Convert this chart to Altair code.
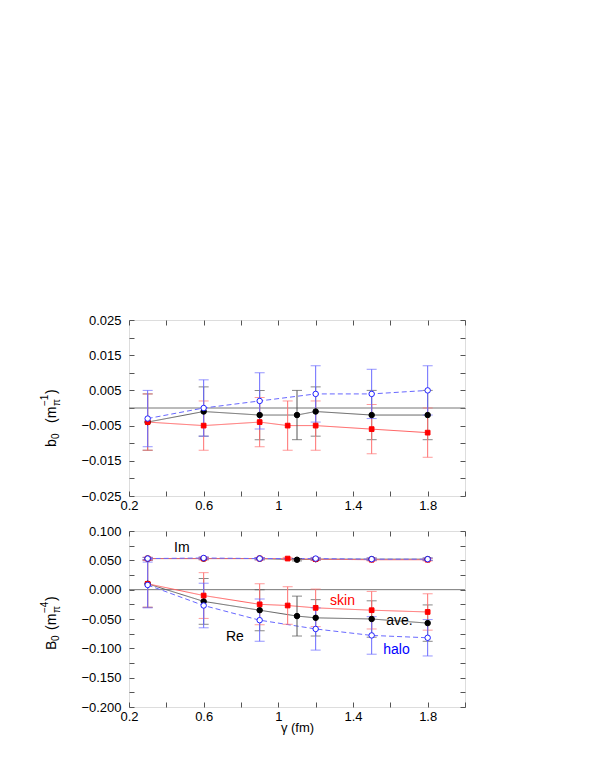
import altair as alt
import pandas as pd

FONT = "Liberation Sans"

# ---------------- data ----------------
skin_x = [0.3, 0.6, 0.9, 1.05, 1.2, 1.5, 1.8]
ave_x = [0.3, 0.6, 0.9, 1.1, 1.2, 1.5, 1.8]
halo_x = [0.3, 0.6, 0.9, 1.2, 1.5, 1.8]

# upper panel: b0
skin_b0 = [-0.004, -0.005, -0.004, -0.005, -0.005, -0.006, -0.007]
skin_b0_err = [0.008, 0.007, 0.007, 0.007, 0.007, 0.007, 0.007]
ave_b0 = [-0.004, -0.001, -0.002, -0.002, -0.001, -0.002, -0.002]
ave_b0_err = [0.008, 0.007, 0.007, 0.007, 0.007, 0.007, 0.007]
halo_b0 = [-0.003, 0.000, 0.002, 0.004, 0.004, 0.005]
halo_b0_err = [0.008, 0.008, 0.008, 0.008, 0.007, 0.007]

# lower panel: B0, real part
skin_re = [0.010, -0.010, -0.025, -0.027, -0.031, -0.035, -0.038]
skin_re_err = [0.040, 0.039, 0.035, 0.032, 0.032, 0.032, 0.031]
ave_re = [0.010, -0.020, -0.035, -0.045, -0.048, -0.050, -0.057]
ave_re_err = [0.040, 0.039, 0.035, 0.034, 0.031, 0.031, 0.031]
halo_re = [0.008, -0.027, -0.052, -0.067, -0.078, -0.082]
halo_re_err = [0.039, 0.038, 0.036, 0.036, 0.032, 0.031]

# lower panel: B0, imaginary part
skin_im = [0.053, 0.053, 0.053, 0.053, 0.052, 0.051, 0.051]
ave_im = [0.053, 0.053, 0.053, 0.051, 0.052, 0.052, 0.052]
halo_im = [0.053, 0.054, 0.053, 0.053, 0.052, 0.052]
im_err = 0.002

x_ticks = [0.2, 0.4, 0.6, 0.8, 1.0, 1.2, 1.4, 1.6, 1.8, 2.0]
b0_ticks = [-0.025, -0.02, -0.015, -0.01, -0.005, 0.0, 0.005, 0.01, 0.015, 0.02, 0.025]
B0_ticks = [-0.2, -0.175, -0.15, -0.125, -0.1, -0.075, -0.05, -0.025, 0.0, 0.025, 0.05, 0.075, 0.1]


def frame(series, xs, vals, errs, part):
    if not isinstance(errs, list):
        errs = [errs] * len(xs)
    return pd.DataFrame({
        "series": series, "part": part, "x": xs, "v": vals,
        "lo": [v - e for v, e in zip(vals, errs)],
        "hi": [v + e for v, e in zip(vals, errs)],
    })


top_df = pd.concat([
    frame("skin", skin_x, skin_b0, skin_b0_err, "Re"),
    frame("ave", ave_x, ave_b0, ave_b0_err, "Re"),
    frame("halo", halo_x, halo_b0, halo_b0_err, "Re"),
])
bot_df = pd.concat([
    frame("skin", skin_x, skin_re, skin_re_err, "Re"),
    frame("ave", ave_x, ave_re, ave_re_err, "Re"),
    frame("halo", halo_x, halo_re, halo_re_err, "Re"),
    frame("skin", skin_x, skin_im, im_err, "Im"),
    frame("ave", ave_x, ave_im, im_err, "Im"),
    frame("halo", halo_x, halo_im, im_err, "Im"),
])

STYLE = {
    "skin": dict(line="#ff6060", bar="#ff7070", dash=[1, 0], shape="square", fill="#ff0000", stroke="#ff0000", size=22),
    "ave": dict(line="#606060", bar="#555555", dash=[1, 0], shape="circle", fill="#000000", stroke="#000000", size=30),
    "halo": dict(line="#6868ff", bar="#6a6aff", dash=[5, 3], shape="circle", fill="#ffffff", stroke="#2020ff", size=30),
}

W, H = 336, 176
XS = alt.Scale(domain=[0.2, 2.0], nice=False, zero=False)


def x_enc(axis=None, field="x"):
    return alt.X(f"{field}:Q", scale=XS, axis=axis, title=None)


def y_enc(scale, axis=None, field="v"):
    return alt.Y(f"{field}:Q", scale=scale, axis=axis, title=None)


def panel(df, ydomain, yticks, ylab_expr, x_title, title_pieces, annotations):
    YS = alt.Scale(domain=ydomain, nice=False, zero=False)
    base = alt.Chart(df)
    layers = []

    # zero line
    layers.append(alt.Chart(pd.DataFrame({"z": [0.0]})).mark_rule(color="#777777", strokeWidth=1).encode(
        y=alt.Y("z:Q", scale=YS, axis=None)))

    for s in ["ave", "skin", "halo"]:
        st = STYLE[s]
        d = base.transform_filter(alt.datum.series == s)
        layers.append(d.mark_line(color=st["line"], strokeWidth=1, strokeDash=st["dash"]).encode(
            x=x_enc(), y=y_enc(YS), detail="part:N", order="x:Q"))
    for s in ["ave", "skin", "halo"]:
        st = STYLE[s]
        d = base.transform_filter(alt.datum.series == s)
        layers.append(d.mark_rule(color=st["bar"], strokeWidth=1).encode(
            x=x_enc(), y=y_enc(YS, field="lo"), y2="hi:Q"))
        for f in ["lo", "hi"]:
            layers.append(d.mark_tick(color=st["bar"], thickness=1, size=10, orient="horizontal").encode(
                x=x_enc(), y=y_enc(YS, field=f)))
    for s in ["ave", "skin", "halo"]:
        st = STYLE[s]
        d = base.transform_filter(alt.datum.series == s)
        layers.append(d.mark_point(shape=st["shape"], filled=True, fill=st["fill"], stroke=st["stroke"],
                                   strokeWidth=1, size=st["size"], opacity=1).encode(
            x=x_enc(), y=y_enc(YS)))

    # axes: left/bottom with labels, right/top mirrored ticks only (inward ticks)
    common = dict(tickSize=5, offset=-5, domain=False, grid=False, tickColor="#555555",
                  labelFont=FONT, labelFontSize=13, labelColor="#000000", labelFlush=False)
    lab_x = "(round(datum.value*10)%4==2) ? datum.label : ''"
    if x_title:
        xaxis_b = alt.Axis(orient="bottom", values=x_ticks, format="~g", labelExpr=lab_x,
                           labelPadding=3, title=x_title, titleFont=FONT, titleFontSize=13,
                           titleFontWeight="normal", titlePadding=-2, titleColor="#000000", **common)
    else:
        xaxis_b = alt.Axis(orient="bottom", values=x_ticks, format="~g", labelExpr=lab_x,
                           labelPadding=3, **common)
    yaxis_l = alt.Axis(orient="left", values=yticks, format=".3f", labelExpr=ylab_expr,
                       labelPadding=8, **common)
    axes_a = alt.Chart(df).mark_point(opacity=0).encode(
        x=alt.X("x:Q", scale=XS, axis=xaxis_b, title=x_title if x_title else None),
        y=alt.Y("v:Q", scale=YS, axis=yaxis_l, title=None))
    axes_b = alt.Chart(df).mark_point(opacity=0).encode(
        x=alt.X("x:Q", scale=XS, axis=alt.Axis(orient="top", values=x_ticks, labels=False, **common), title=None),
        y=alt.Y("v:Q", scale=YS, axis=alt.Axis(orient="right", values=yticks, labels=False, **common), title=None))
    layers += [axes_a, axes_b]

    # annotations
    for txt, ax, ay, col in annotations:
        layers.append(alt.Chart(pd.DataFrame({"t": [txt]})).mark_text(
            font=FONT, fontSize=14, color=col, align="center", baseline="middle").encode(
            x=alt.X("ax:Q", scale=XS, axis=None),
            y=alt.Y("ay:Q", scale=YS, axis=None), text="t:N").transform_calculate(ax=str(ax), ay=str(ay)))

    # composite rotated y-axis title (pixel placement, relative to the plot area)
    for txt, size, dx, ypos in title_pieces["pieces"]:
        layers.append(alt.Chart(pd.DataFrame({"t": [txt]})).mark_text(
            font=FONT, fontSize=size, color="#000000", angle=270, align="left", baseline="alphabetic").encode(
            x=alt.value(title_pieces["x"] + dx), y=alt.value(ypos), text="t:N"))

    return alt.layer(*layers).resolve_axis(x="independent", y="independent").properties(width=W, height=H)


odd5 = "(abs(round(datum.value*1000))%10==5) ? datum.label : ''"
mult50 = "(abs(round(datum.value*1000))%50==0) ? datum.label : ''"

top = panel(
    top_df, [-0.025, 0.025], b0_ticks, odd5, None,
    {"x": -73, "pieces": [
        ("b", 14, 0, 127), ("0", 10, 3, 119), ("(m", 14, 0, 103), ("π", 10, 4, 86),
        ("−1", 10, -8, 86), (")", 14, 0, 74)]},
    [])
bottom = panel(
    bot_df, [-0.2, 0.1], B0_ticks, mult50, "γ (fm)",
    {"x": -73, "pieces": [
        ("B", 14, 0, 119), ("0", 10, 3, 110), ("(m", 14, 0, 99), ("π", 10, 4, 82),
        ("−4", 10, -8, 82), (")", 14, 0, 70)]},
    [("Im", 0.483, 0.071, "#000000"), ("Re", 0.767, -0.080, "#000000"),
     ("skin", 1.344, -0.019, "#ff0000"), ("ave.", 1.649, -0.053, "#000000"),
     ("halo", 1.633, -0.102, "#0000ff")])

chart = alt.vconcat(top, bottom, spacing=11).properties(
    padding={"left": 31, "top": 305, "right": 5, "bottom": 5}
).configure_view(stroke="#666666", strokeWidth=1).configure(font=FONT)

chart.save("out.html", embed_options={"renderer": "svg", "actions": False})
